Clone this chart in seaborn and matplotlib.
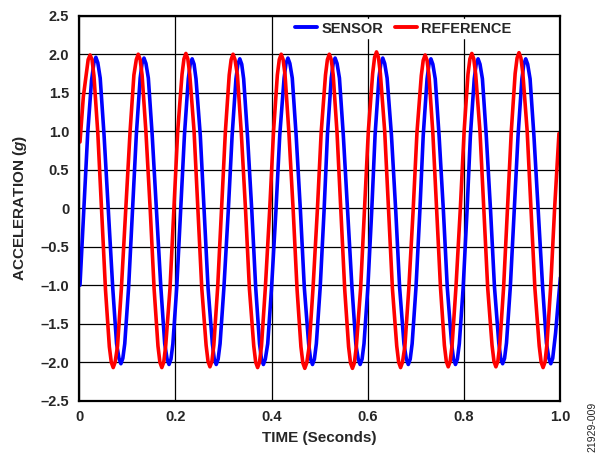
import pandas as pd
import matplotlib
matplotlib.use("Agg")
import matplotlib.pyplot as plt
import seaborn as sns

# ===============================
# Data
# (one row per half cycle: around the peak/trough, then the flank)
# ===============================

ref_t = [0.002, 0.009,
         0.019, 0.023, 0.027, 0.031, 0.039, 0.047, 0.055, 0.063,
         0.067, 0.071, 0.075, 0.080, 0.088, 0.097, 0.106, 0.114,
         0.119, 0.123, 0.127, 0.131, 0.139, 0.148, 0.156, 0.164,
         0.168, 0.172, 0.176, 0.180, 0.189, 0.197, 0.205, 0.214,
         0.218, 0.222, 0.226, 0.230, 0.239, 0.247, 0.255, 0.264,
         0.268, 0.272, 0.276, 0.280, 0.288, 0.296, 0.304, 0.312,
         0.316, 0.320, 0.324, 0.329, 0.337, 0.346, 0.354, 0.363,
         0.367, 0.371, 0.375, 0.379, 0.387, 0.396, 0.404, 0.412,
         0.416, 0.420, 0.424, 0.428, 0.436, 0.445, 0.453, 0.461,
         0.465, 0.469, 0.473, 0.478, 0.486, 0.495, 0.503, 0.512,
         0.516, 0.520, 0.524, 0.528, 0.536, 0.544, 0.552, 0.560,
         0.564, 0.568, 0.572, 0.576, 0.585, 0.593, 0.601, 0.610,
         0.614, 0.618, 0.622, 0.626, 0.635, 0.643, 0.651, 0.660,
         0.664, 0.668, 0.672, 0.677, 0.685, 0.694, 0.702, 0.711,
         0.715, 0.719, 0.723, 0.727, 0.735, 0.743, 0.751, 0.759,
         0.763, 0.767, 0.771, 0.775, 0.783, 0.792, 0.800, 0.808,
         0.812, 0.816, 0.820, 0.824, 0.833, 0.841, 0.849, 0.858,
         0.862, 0.866, 0.870, 0.874, 0.882, 0.890, 0.898, 0.906,
         0.910, 0.914, 0.918, 0.922, 0.931, 0.939, 0.947, 0.956,
         0.960, 0.964, 0.968, 0.972, 0.980, 0.988, 0.997]
ref_g = [0.86, 1.45,
         1.93, 1.99, 1.93, 1.72, 0.98, -0.04, -1.06, -1.80,
         -2.00, -2.07, -2.00, -1.79, -1.04, -0.03, 0.99, 1.73,
         1.93, 2.00, 1.93, 1.73, 0.99, -0.03, -1.05, -1.79,
         -2.00, -2.07, -2.00, -1.79, -1.04, -0.02, 1.00, 1.74,
         1.94, 2.01, 1.94, 1.74, 1.00, -0.02, -1.04, -1.78,
         -1.99, -2.06, -1.99, -1.78, -1.03, -0.03, 0.99, 1.73,
         1.93, 2.00, 1.93, 1.73, 0.99, -0.03, -1.05, -1.79,
         -2.00, -2.07, -2.00, -1.79, -1.04, -0.03, 0.99, 1.73,
         1.93, 2.00, 1.93, 1.73, 0.98, -0.04, -1.06, -1.80,
         -2.01, -2.08, -2.01, -1.80, -1.05, -0.04, 0.98, 1.73,
         1.93, 2.00, 1.93, 1.73, 0.98, -0.04, -1.06, -1.80,
         -2.01, -2.08, -2.01, -1.80, -1.04, -0.02, 1.00, 1.75,
         1.96, 2.03, 1.96, 1.75, 1.00, -0.02, -1.04, -1.79,
         -2.00, -2.07, -2.00, -1.79, -1.05, -0.04, 0.98, 1.72,
         1.92, 1.99, 1.92, 1.72, 0.98, -0.03, -1.04, -1.78,
         -1.99, -2.06, -1.99, -1.78, -1.03, -0.02, 1.00, 1.74,
         1.94, 2.01, 1.94, 1.74, 0.99, -0.02, -1.04, -1.78,
         -1.99, -2.06, -1.99, -1.78, -1.03, -0.02, 1.00, 1.75,
         1.95, 2.02, 1.95, 1.75, 1.00, -0.02, -1.04, -1.79,
         -2.00, -2.07, -2.00, -1.77, -1.00, 0.00, 0.97]

sen_t = [0.002, 0.010, 0.018, 0.026,
         0.031, 0.035, 0.039, 0.044, 0.052, 0.061, 0.070, 0.078,
         0.083, 0.087, 0.091, 0.095, 0.103, 0.111, 0.119, 0.127,
         0.131, 0.135, 0.139, 0.144, 0.152, 0.161, 0.170, 0.178,
         0.183, 0.187, 0.191, 0.195, 0.203, 0.211, 0.219, 0.227,
         0.231, 0.235, 0.239, 0.243, 0.252, 0.260, 0.268, 0.277,
         0.281, 0.285, 0.289, 0.293, 0.301, 0.310, 0.318, 0.326,
         0.330, 0.334, 0.338, 0.342, 0.350, 0.359, 0.367, 0.375,
         0.379, 0.383, 0.387, 0.392, 0.400, 0.409, 0.417, 0.426,
         0.430, 0.434, 0.438, 0.443, 0.451, 0.460, 0.468, 0.477,
         0.481, 0.485, 0.489, 0.493, 0.501, 0.509, 0.516, 0.524,
         0.528, 0.532, 0.536, 0.541, 0.549, 0.558, 0.567, 0.575,
         0.580, 0.584, 0.588, 0.592, 0.600, 0.608, 0.615, 0.623,
         0.627, 0.631, 0.635, 0.640, 0.649, 0.658, 0.666, 0.675,
         0.680, 0.684, 0.688, 0.692, 0.700, 0.708, 0.715, 0.723,
         0.727, 0.731, 0.735, 0.740, 0.748, 0.757, 0.765, 0.774,
         0.778, 0.782, 0.786, 0.790, 0.798, 0.806, 0.813, 0.821,
         0.825, 0.829, 0.833, 0.838, 0.846, 0.855, 0.863, 0.872,
         0.876, 0.880, 0.884, 0.888, 0.896, 0.904, 0.912, 0.920,
         0.924, 0.928, 0.932, 0.937, 0.945, 0.954, 0.963, 0.971,
         0.976, 0.980, 0.984, 0.990, 0.995, 1.000]
sen_g = [-1.00, -0.02, 0.97, 1.66,
         1.89, 1.96, 1.89, 1.69, 0.95, -0.04, -1.03, -1.76,
         -1.95, -2.02, -1.95, -1.76, -1.03, -0.04, 0.95, 1.69,
         1.88, 1.95, 1.88, 1.69, 0.95, -0.04, -1.03, -1.76,
         -1.96, -2.03, -1.96, -1.76, -1.03, -0.04, 0.95, 1.68,
         1.87, 1.94, 1.87, 1.68, 0.94, -0.04, -1.03, -1.76,
         -1.96, -2.03, -1.96, -1.76, -1.03, -0.04, 0.94, 1.68,
         1.87, 1.94, 1.87, 1.68, 0.94, -0.04, -1.03, -1.76,
         -1.96, -2.03, -1.96, -1.76, -1.03, -0.04, 0.95, 1.69,
         1.88, 1.95, 1.88, 1.69, 0.95, -0.04, -1.03, -1.76,
         -1.96, -2.03, -1.96, -1.76, -1.03, -0.04, 0.95, 1.69,
         1.88, 1.95, 1.88, 1.69, 0.95, -0.04, -1.03, -1.76,
         -1.96, -2.03, -1.96, -1.76, -1.03, -0.04, 0.95, 1.69,
         1.88, 1.95, 1.88, 1.69, 0.95, -0.04, -1.03, -1.76,
         -1.96, -2.03, -1.96, -1.76, -1.03, -0.04, 0.94, 1.68,
         1.87, 1.94, 1.87, 1.68, 0.94, -0.04, -1.03, -1.76,
         -1.96, -2.03, -1.96, -1.76, -1.03, -0.04, 0.94, 1.68,
         1.87, 1.94, 1.87, 1.68, 0.94, -0.04, -1.02, -1.75,
         -1.95, -2.02, -1.95, -1.75, -1.02, -0.04, 0.94, 1.68,
         1.87, 1.94, 1.87, 1.68, 0.94, -0.04, -1.02, -1.75,
         -1.95, -2.02, -1.95, -1.62, -1.25, -0.90]

x_ticks = [0, 0.2, 0.4, 0.6, 0.8, 1.0]
x_labels = ["0", "0.2", "0.4", "0.6", "0.8", "1.0"]
y_ticks = [2.5, 2.0, 1.5, 1.0, 0.5, 0, -0.5, -1.0, -1.5, -2.0, -2.5]
y_labels = ["2.5", "2.0", "1.5", "1.0", "0.5", "0",
            "\u20130.5", "\u20131.0", "\u20131.5", "\u20132.0", "\u20132.5"]

df = pd.concat([
    pd.DataFrame({"t": sen_t, "g": sen_g, "serie": "SENSOR"}),
    pd.DataFrame({"t": ref_t, "g": ref_g, "serie": "REFERENCE"}),
])

# ===============================
# Estilo
# ===============================

sns.set_style("white")
plt.rcParams["font.family"] = ["Liberation Sans", "DejaVu Sans"]
plt.rcParams["font.weight"] = "bold"
plt.rcParams["mathtext.fontset"] = "custom"
plt.rcParams["mathtext.it"] = "Liberation Sans:italic:bold"

fig = plt.figure(figsize=(6, 4.53), dpi=100)
ax = fig.add_axes([0.1317, 0.1155, 0.8023, 0.8498])

sns.lineplot(data=df, x="t", y="g", hue="serie",
             palette={"SENSOR": "#0000ff", "REFERENCE": "#ff0000"},
             estimator=None, sort=False, linewidth=2.6, ax=ax)

ax.set_xlim(0, 1.0)
ax.set_ylim(-2.5, 2.5)
ax.set_xticks(x_ticks)
ax.set_xticklabels(x_labels, fontsize=10.5, fontweight="bold")
ax.set_yticks(y_ticks)
ax.set_yticklabels(y_labels, fontsize=10.5, fontweight="bold")
ax.tick_params(length=0, pad=7)

ax.grid(True, color="black", linewidth=0.9)
ax.set_axisbelow(True)
for s in ax.spines.values():
    s.set_color("black")
    s.set_linewidth(1.6)

ax.set_xlabel("TIME (Seconds)", fontsize=11, fontweight="bold", labelpad=5)
ax.set_ylabel("ACCELERATION ($\\mathit{g}$)", fontsize=11, fontweight="bold", labelpad=8)

leg = ax.legend(loc="upper right", ncol=2, frameon=True, fontsize=10.5,
                handlelength=1.5, handletextpad=0.3, columnspacing=0.8,
                borderpad=0.2, borderaxespad=0.2, bbox_to_anchor=(0.91, 1.0))
leg.get_frame().set_edgecolor("white")
leg.get_frame().set_facecolor("white")
leg.get_frame().set_alpha(1)
leg.get_frame().set_boxstyle("square", pad=0)
for line in leg.get_lines():
    line.set_linewidth(2.8)
for txt in leg.get_texts():
    txt.set_fontweight("bold")

fig.text(0.988, 0.057, "21929-009", rotation=90, fontsize=7.5,
         fontweight="normal", ha="center", va="center", color="#222222")

plt.savefig("out.png", dpi=100)
